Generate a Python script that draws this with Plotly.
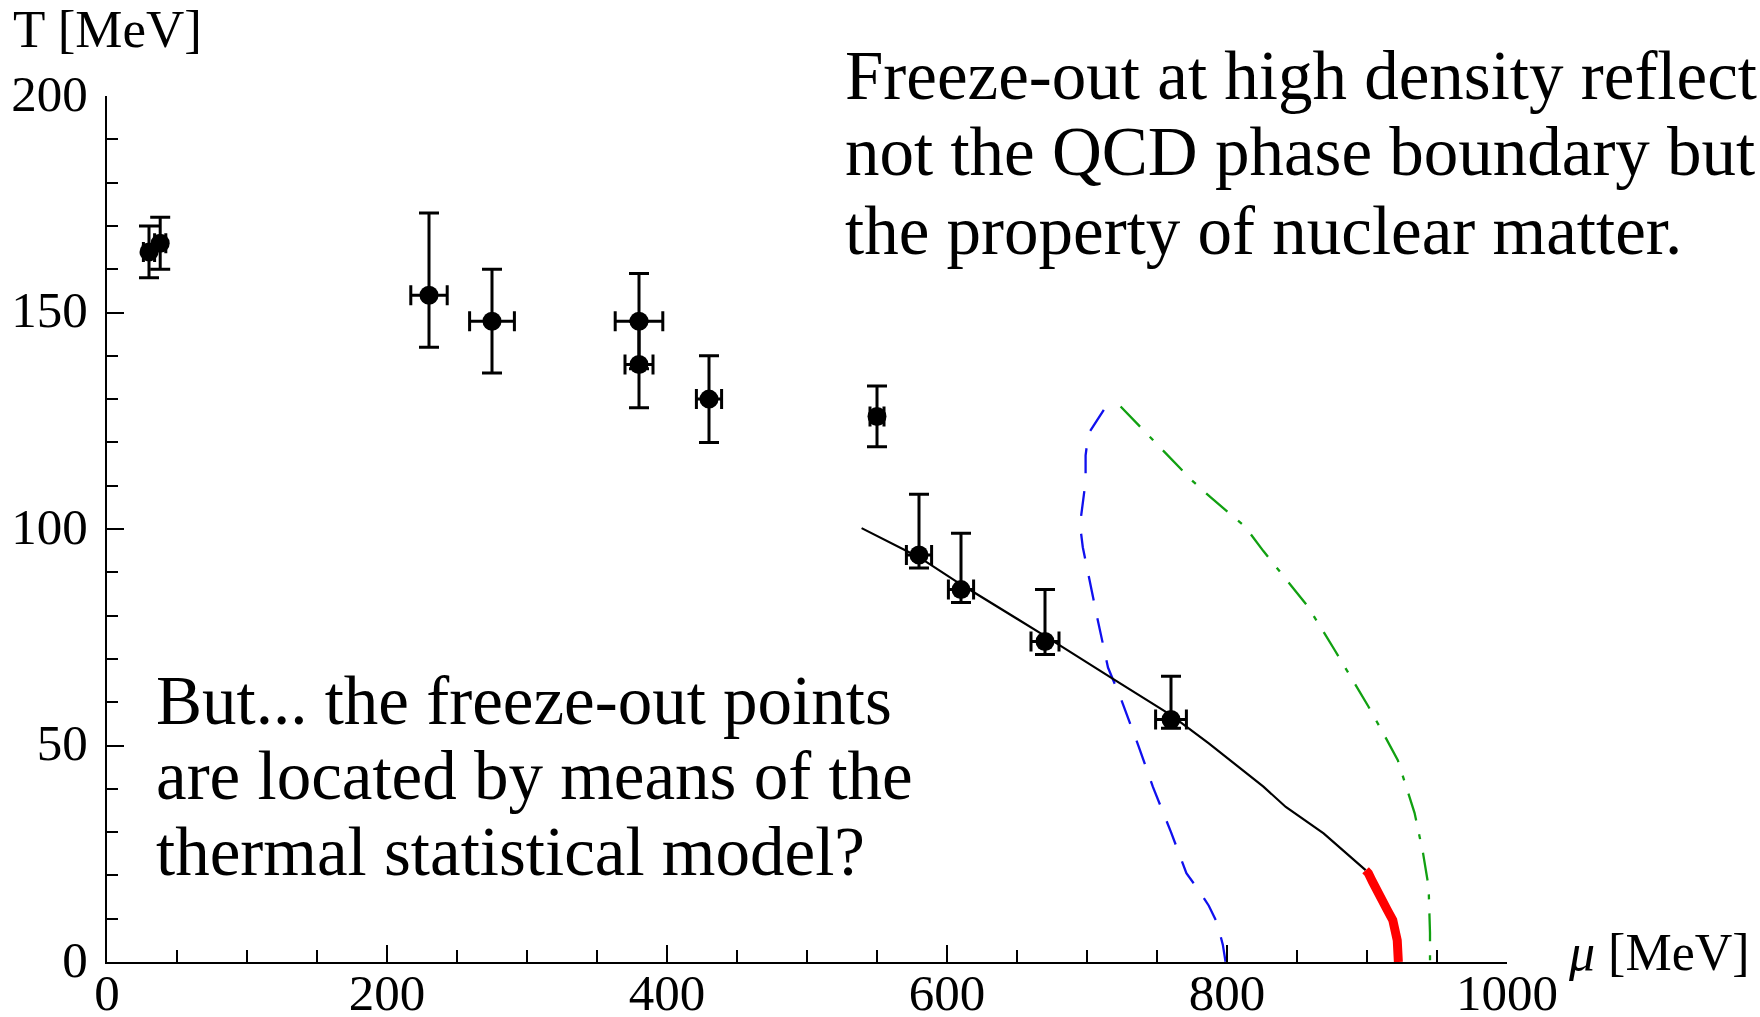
import plotly.graph_objects as go

# ---- data ----
mu_pts = [30, 38, 230, 275, 380, 380, 430, 550, 580, 610, 670, 760]
T_pts = [164, 166, 154, 148, 148, 138, 130, 126, 94, 86, 74, 56]
T_err_plus = [6, 6, 19, 12, 11, 10, 10, 7, 14, 13, 12, 10]
T_err_minus = [6, 6, 12, 12, 11, 10, 10, 7, 3, 3, 3, 2]
mu_err = [4, 4, 13, 16, 17, 10, 9, 5, 9, 9, 10, 11]

mu_black = [539, 580, 609, 669, 718, 760, 787, 826, 842, 869, 899]
T_black = [100.2, 93.5, 87.4, 75.5, 65.5, 57, 50.5, 40.5, 35.8, 29.7, 21.2]

mu_red = [899, 901, 904, 909, 914.5, 918.4, 921.6, 922.4]
T_red = [21.2, 20.5, 18.5, 15, 12, 9.7, 5, 0]

mu_blue = [712, 701, 699, 699, 695, 697, 707, 715, 724, 737, 747, 760, 771, 780, 787, 793, 797, 799]
T_blue = [127.5, 122, 117, 111, 101, 95.8, 80, 68, 61, 49.7, 40.5, 30, 20.5, 16.5, 13, 9, 4, 0]

mu_green = [724, 737, 750, 775, 788, 807, 813, 826, 845, 858, 877, 887, 901, 913, 922, 928, 934, 940, 944, 945, 945]
T_green = [128.3, 124, 119.7, 111.2, 107.4, 102, 100.5, 94.9, 87.4, 82, 72, 66.7, 59, 52, 46.6, 40.5, 34.4, 25.2, 17.4, 6.7, 0]

x_ticks = [0, 200, 400, 600, 800, 1000]
y_ticks = [0, 50, 100, 150, 200]

text_top = ["Freeze-out at high density reflect",
            "not the QCD phase boundary but",
            "the property of nuclear matter."]
text_bottom = ["But... the freeze-out points",
               "are located by means of the",
               "thermal statistical model?"]

FONT = "Liberation Serif, Times New Roman, serif"

fig = go.Figure()

fig.add_trace(go.Scatter(x=mu_blue, y=T_blue, mode="lines",
                         line=dict(color="#1010ee", width=2.3, dash="25px,18px"),
                         hoverinfo="skip"))
fig.add_trace(go.Scatter(x=mu_green, y=T_green, mode="lines",
                         line=dict(color="#11a011", width=2.3, dash="28px,14px,5px,14px"),
                         hoverinfo="skip"))
fig.add_trace(go.Scatter(x=mu_black, y=T_black, mode="lines",
                         line=dict(color="black", width=2.2), hoverinfo="skip"))
fig.add_trace(go.Scatter(x=mu_red, y=T_red, mode="lines",
                         line=dict(color="#ff0000", width=9), hoverinfo="skip"))
fig.add_trace(go.Scatter(
    x=mu_pts, y=T_pts, mode="markers",
    marker=dict(color="black", size=19),
    error_y=dict(type="data", symmetric=False, array=T_err_plus, arrayminus=T_err_minus,
                 color="black", thickness=3, width=10),
    error_x=dict(type="data", array=mu_err, color="black", thickness=3, width=10),
))

axis_common = dict(
    showgrid=False, zeroline=False, showline=True, linecolor="black", linewidth=2,
    ticks="inside", ticklen=17, tickwidth=2, tickcolor="black", automargin=False,
    tickfont=dict(family=FONT, size=51, color="black"),
)

fig.update_xaxes(range=[0, 1000], tickvals=x_ticks, ticktext=[str(v) for v in x_ticks],
                 minor=dict(dtick=50, ticks="inside", ticklen=12, tickwidth=2, tickcolor="black"),
                 ticklabelstandoff=-15, **axis_common)
fig.update_yaxes(range=[0, 200], tickvals=y_ticks, ticktext=[str(v) for v in y_ticks],
                 minor=dict(dtick=10, ticks="inside", ticklen=11, tickwidth=2, tickcolor="black"),
                 ticklabelstandoff=7, ticklabelshift=-3, **axis_common)

annotations = []
for i, t in enumerate(text_top):
    annotations.append(dict(text=t, xref="paper", yref="paper", x=0.526, y=[1.0235, 0.9357, 0.8445][i],
                            xanchor="left", yanchor="middle", showarrow=False,
                            font=dict(family=FONT, size=69, color="black")))
for i, t in enumerate(text_bottom):
    annotations.append(dict(text=t, xref="paper", yref="paper", x=0.0335, y=[0.3014, 0.2148, 0.127][i],
                            xanchor="left", yanchor="middle", showarrow=False,
                            font=dict(family=FONT, size=69, color="black")))
annotations.append(dict(text="T [MeV]", xref="paper", yref="paper", x=-0.0686, y=1.077,
                        xanchor="left", yanchor="middle", showarrow=False,
                        font=dict(family=FONT, size=53, color="black")))
annotations.append(dict(text="<i>μ</i> [MeV]", xref="paper", yref="paper", x=1.042, y=0.0115,
                        xanchor="left", yanchor="middle", showarrow=False,
                        font=dict(family=FONT, size=52, color="black")))

fig.update_layout(
    width=1760, height=1017, showlegend=False,
    margin=dict(l=107, r=253, t=96, b=55, autoexpand=False),
    plot_bgcolor="white", paper_bgcolor="white",
    annotations=annotations,
)

fig.write_html("out.html")
